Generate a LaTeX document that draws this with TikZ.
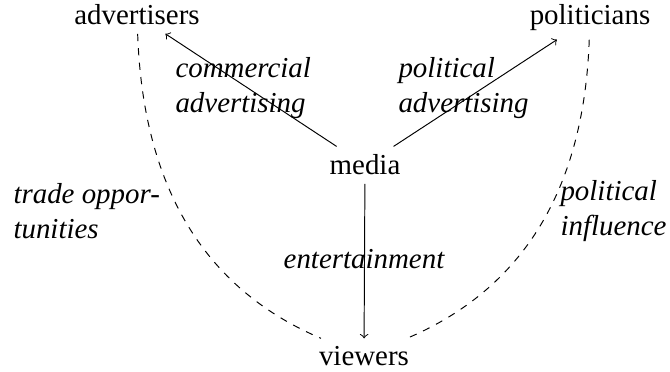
\documentclass[tikz,border=0pt]{standalone}
\usepackage{fontspec}
\setmainfont{Liberation Serif}[ItalicFont={Liberation Serif Italic}]
\tikzset{
    party/.style={
        font=\fontsize{12}{14.5}\selectfont
    },
    flowlabel/.style={
        align=left, font=\fontsize{12}{14.5}\selectfont\itshape
    },
    flow/.style={
        ->, thin
    },
    exchange/.style={
        thin, dashed
    }
}
\begin{document}
\begin{tikzpicture}[x=0.415pt, y=-0.415pt]
        \useasboundingbox (0,0) rectangle (670,372);
        % the four parties
        \node [party, anchor=base] (advertisers) at (137,25) {advertisers};
        \node [party, anchor=base] (politicians) at (590,25) {politicians};
        \node [party, anchor=base] (media) at (365,175) {media};
        \node [party, anchor=base] (viewers) at (364,366) {viewers};

        % what the media gives
        \draw [flow] (media) -- (advertisers);
        \draw [flow] (media) -- (politicians);
        \draw [flow] (media) -- (viewers);

        % what the viewers give back
        \draw [exchange] (advertisers) to[out=-88, in=157] (viewers);
        \draw [exchange] (politicians) to[out=-92, in=23] (viewers);

        \node [flowlabel, anchor=west] (commlabel) at (167,88) {commercial\\advertising};
        \node [flowlabel, anchor=west] (pollabel) at (390,88) {political\\advertising};
        \node [flowlabel] (entlabel) at (364,259) {entertainment};
        \node [flowlabel, anchor=west] (tradelabel) at (5,211) {trade oppor-\\tunities};
        \node [flowlabel, anchor=west] (inflabel) at (552,211) {political\\influence};
\end{tikzpicture}
\end{document}
